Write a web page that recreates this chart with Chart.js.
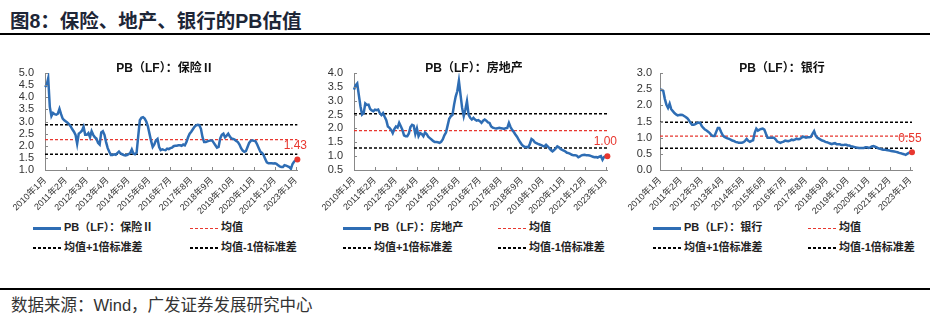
<!DOCTYPE html>
<html>
<head>
<meta charset="utf-8">
<script src="https://cdn.jsdelivr.net/npm/chart.js@4/dist/chart.umd.min.js"></script>
<style>
  body { margin: 0; width: 936px; height: 325px; background: #fff; position: relative; overflow: hidden;
         font-family: "Liberation Sans", Arial, "Noto Sans CJK SC", sans-serif; }
  #title { position: absolute; left: 10px; top: 5px; font-size: 19.5px; font-weight: bold; color: #1d2637;
           font-family: "Liberation Sans", "Noto Sans CJK SC", sans-serif; }
  .rule { position: absolute; left: 0; width: 930px; background: #000; }
  .panel { position: absolute; top: 50px; height: 170px; }
  .ptitle { position: absolute; top: 58px; font-size: 12px; font-weight: bold; color: #111; white-space: nowrap;
            transform: translateX(-50%); font-family: "Liberation Sans", "Noto Sans CJK SC", sans-serif; }
  .lg { position: absolute; font-size: 11px; font-weight: bold; color: #222; white-space: nowrap; line-height: 13px;
        font-family: "Liberation Sans", "Noto Sans CJK SC", sans-serif; }
  .lg i { display: inline-block; width: 28px; height: 2px; vertical-align: middle; margin-right: 3px; }
  .solid { background: #2e6db4; height: 3px !important; }
  .dashBlack { background: repeating-linear-gradient(to right, #000 0 3px, transparent 3px 5px); }
  .dashRed { background: repeating-linear-gradient(to right, #e8372f 0 3px, transparent 3px 5px); height: 1px !important; }
  #source { position: absolute; left: 11px; top: 292px; font-size: 16.5px; color: #333;
            font-family: "Liberation Sans", "Noto Sans CJK SC", sans-serif; }
</style>
</head>
<body>
<div id="title">图8：保险、地产、银行的PB估值</div>
<div class="rule" style="top:33px;height:2px"></div>
<div class="rule" style="top:288px;height:1.5px"></div>
<div id="source">数据来源：Wind，广发证券发展研究中心</div>

<script>
/* ================================
   Data (monthly, 2010年1月 – 2023年2月)
   ================================ */
const startYear = 2010;
const labelStep = 13;   // a label every 13 months

const insurance = [
  4.42, 4.50, 4.78, 3.60, 3.22, 3.35, 3.30, 3.28, 3.32, 3.52, 3.30, 3.12,
  3.05, 3.00, 2.95, 2.88, 2.80, 2.68, 2.58, 2.45, 2.08, 2.50, 2.55, 2.62,
  2.78, 2.45, 2.45, 2.52, 2.35, 2.60, 2.45, 2.35, 2.30, 2.12, 2.05, 2.55,
  2.60, 2.45, 2.15, 1.90, 1.75, 1.62, 1.62, 1.65, 1.63, 1.70, 1.76, 1.68,
  1.65, 1.62, 1.60, 1.62, 1.65, 1.70, 1.85, 1.68, 1.65, 1.72, 2.40, 3.05,
  3.15, 3.18, 3.12, 3.00, 2.80, 2.50, 2.20, 1.95, 2.05, 2.22, 2.28, 1.95,
  1.82, 1.85, 1.83, 1.82, 1.88, 1.86, 1.90, 1.92, 1.98, 2.00, 2.00, 2.02,
  2.02, 2.00, 2.05, 2.02, 2.15, 2.35, 2.50, 2.58, 2.68, 2.78, 2.84, 2.86,
  2.85, 2.70, 2.35, 2.15, 2.15, 2.18, 2.20, 2.22, 2.22, 2.12, 2.02, 1.92,
  1.95, 2.30, 2.45, 2.50, 2.35, 2.42, 2.50, 2.38, 2.30, 2.28, 2.25, 2.20,
  2.15, 2.05, 1.90, 1.80, 1.75, 1.78, 1.95, 2.12, 2.20, 2.22, 2.20, 2.18,
  2.05, 1.90, 1.75, 1.70, 1.62, 1.45, 1.32, 1.28, 1.28, 1.28, 1.27, 1.28,
  1.25, 1.20, 1.15, 1.12, 1.12, 1.20, 1.18, 1.15, 1.12, 1.05, 1.25, 1.35,
  1.40, 1.43
];

const realEstate = [
  3.40, 3.55, 3.62, 3.20, 2.80, 2.50, 2.55, 2.90, 2.85, 2.86, 2.70, 2.65,
  2.62, 2.68, 2.66, 2.68, 2.55, 2.48, 2.55, 2.42, 2.30, 2.07, 2.02, 1.95,
  1.83, 1.98, 2.07, 2.03, 2.20, 2.08, 1.95, 1.75, 1.72, 1.72, 1.82, 2.05,
  2.13, 2.10, 1.80, 2.00, 1.72, 1.83, 1.80, 1.72, 1.85, 1.80, 1.70, 1.65,
  1.60, 1.55, 1.51, 1.51, 1.50, 1.48, 1.52, 1.60, 1.75, 1.85, 2.10, 2.35,
  2.44, 2.48, 2.85, 3.15, 3.34, 3.72, 3.22, 2.74, 2.44, 2.68, 2.98, 2.50,
  2.38, 2.32, 2.38, 2.32, 2.28, 2.30, 2.26, 2.20, 2.28, 2.32, 2.28, 2.22,
  2.20, 2.07, 2.03, 2.01, 2.00, 2.01, 2.02, 2.01, 2.00, 1.98, 2.01, 2.02,
  2.20, 2.05, 1.95, 1.87, 1.78, 1.70, 1.60, 1.50, 1.41, 1.36, 1.33, 1.33,
  1.32, 1.45, 1.62, 1.58, 1.50, 1.47, 1.44, 1.42, 1.40, 1.37, 1.35, 1.41,
  1.35, 1.29, 1.22, 1.17, 1.22, 1.28, 1.35, 1.32, 1.26, 1.23, 1.20, 1.17,
  1.12, 1.11, 1.08, 1.05, 1.03, 1.03, 1.02, 0.96, 0.99, 1.03, 1.04, 1.05,
  1.03, 1.03, 1.02, 1.00, 0.98, 0.96, 0.97, 0.95, 0.98, 1.00, 0.87, 0.97,
  1.00, 1.00
];

const bank = [
  2.48, 2.48, 2.45, 2.20, 2.02, 1.92, 2.05, 1.88, 1.82, 1.76, 1.72, 1.69,
  1.70, 1.71, 1.70, 1.67, 1.64, 1.60, 1.54, 1.46, 1.40, 1.40, 1.42, 1.45,
  1.47, 1.46, 1.36, 1.30, 1.25, 1.22, 1.18, 1.14, 1.08, 1.05, 1.05, 1.18,
  1.30, 1.30, 1.18, 1.08, 1.03, 1.00, 0.98, 0.96, 0.94, 0.91, 0.90, 0.87,
  0.86, 0.84, 0.84, 0.84, 0.86, 0.90, 0.96, 0.90, 0.87, 0.90, 0.92, 1.15,
  1.28, 1.22, 1.25, 1.27, 1.28, 1.25, 1.12, 1.00, 1.00, 1.00, 1.00, 1.00,
  0.95, 0.88, 0.86, 0.84, 0.86, 0.88, 0.91, 0.90, 0.89, 0.91, 0.94, 0.92,
  0.94, 0.97, 0.95, 0.96, 0.99, 1.03, 1.02, 1.00, 1.01, 1.01, 1.02, 1.12,
  1.20, 1.06, 1.00, 0.97, 0.94, 0.91, 0.90, 0.87, 0.86, 0.84, 0.82, 0.80,
  0.82, 0.83, 0.80, 0.80, 0.80, 0.77, 0.77, 0.78, 0.78, 0.76, 0.76, 0.73,
  0.73, 0.71, 0.70, 0.69, 0.68, 0.68, 0.68, 0.68, 0.70, 0.70, 0.68, 0.70,
  0.73, 0.74, 0.72, 0.70, 0.67, 0.66, 0.64, 0.63, 0.63, 0.62, 0.61, 0.60,
  0.59, 0.58, 0.57, 0.56, 0.55, 0.53, 0.52, 0.50, 0.49, 0.47, 0.50, 0.53,
  0.55, 0.55
];

// [均值+1倍标准差, 均值, 均值-1倍标准差]
const insuranceBands  = [2.87, 2.25, 1.65];
const realEstateBands = [2.53, 1.92, 1.29];
const bankBands       = [1.48, 1.05, 0.67];

const seriesNames = ["PB（LF）：保险Ⅱ", "PB（LF）：房地产", "PB（LF）：银行"];
const legendNames = ["均值", "均值+1倍标准差", "均值-1倍标准差"];

const monthLabels = [];
for (let i = 0; i < insurance.length; i++) {
  monthLabels.push(`${startYear + Math.floor(i / 12)}年${(i % 12) + 1}月`);
}

/* ================================
   Panel layout
   ================================ */
const BLUE = "#2e6db4";
const RED = "#e8372f";
const Y_STEP = 0.5;

const panels = [
  { left: 0,   width: 310, yWidth: 45, yPad: 11, padRight: 5,  min: 1,   max: 5, values: insurance,  bands: insuranceBands,  name: seriesNames[0], titleX: 165, lx: 33,  lx2: 190 },
  { left: 310, width: 310, yWidth: 44, yPad: 11, padRight: 8,  min: 0.5, max: 4, values: realEstate, bands: realEstateBands, name: seriesNames[1], titleX: 474, lx: 343, lx2: 498 },
  { left: 620, width: 316, yWidth: 40, yPad: 8,  padRight: 24, min: 0,   max: 3, values: bank,       bands: bankBands,       name: seriesNames[2], titleX: 782, lx: 653, lx2: 808 }
];

// inward tick marks + last value label
const panelDecor = {
  id: "panelDecor",
  afterDraw(chart) {
    const { ctx, scales: { x, y } } = chart;
    ctx.save();
    ctx.strokeStyle = "#888";
    ctx.lineWidth = 1;
    ctx.beginPath();
    y.ticks.forEach((t, i) => {
      const py = Math.round(y.getPixelForTick(i)) + 0.5;
      ctx.moveTo(x.left, py);
      ctx.lineTo(x.left + 3, py);
    });
    x.ticks.forEach((t, i) => {
      if (i % labelStep !== 0) return;
      const px = Math.round(x.getPixelForTick(i)) + 0.5;
      ctx.moveTo(px, y.bottom);
      ctx.lineTo(px, y.bottom - 3);
    });
    ctx.stroke();

    const meta = chart.getDatasetMeta(0);
    const last = meta.data[meta.data.length - 1];
    const vals = chart.data.datasets[0].data;
    ctx.fillStyle = RED;
    ctx.font = '12px "Liberation Sans", Arial, sans-serif';
    ctx.textAlign = "center";
    ctx.textBaseline = "middle";
    ctx.fillText(vals[vals.length - 1].toFixed(2), last.x - 2, last.y - 14);
    ctx.restore();
  }
};

Chart.defaults.font.family = '"Liberation Sans", Arial, "Noto Sans CJK SC", sans-serif';

function flatLine(v, n) {
  return new Array(n).fill(v);
}

function makeLegend(p) {
  const html = [
    `<div class="lg" style="left:${p.lx}px;top:221px"><i class="solid"></i>${p.name}</div>`,
    `<div class="lg" style="left:${p.lx2}px;top:221px"><i class="dashRed"></i>${legendNames[0]}</div>`,
    `<div class="lg" style="left:${p.lx}px;top:241px"><i class="dashBlack"></i>${legendNames[1]}</div>`,
    `<div class="lg" style="left:${p.lx2}px;top:241px"><i class="dashBlack"></i>${legendNames[2]}</div>`
  ];
  document.body.insertAdjacentHTML("beforeend", html.join(""));
}

panels.forEach(p => {
  const wrap = document.createElement("div");
  wrap.className = "panel";
  wrap.style.left = p.left + "px";
  wrap.style.width = p.width + "px";
  const canvas = document.createElement("canvas");
  wrap.appendChild(canvas);
  document.body.appendChild(wrap);

  document.body.insertAdjacentHTML("beforeend",
    `<div class="ptitle" style="left:${p.titleX}px">${p.name}</div>`);
  makeLegend(p);

  const n = p.values.length;
  new Chart(canvas, {
    type: "line",
    data: {
      labels: monthLabels,
      datasets: [
        { data: p.values, borderColor: BLUE, borderWidth: 2.5, tension: 0,
          pointRadius: ctx => ctx.dataIndex === n - 1 ? 3 : 0,
          pointBackgroundColor: RED, pointBorderColor: RED, pointBorderWidth: 0 },
        { data: flatLine(p.bands[1], n), borderColor: RED, borderWidth: 1.2, borderDash: [3, 2], pointRadius: 0 },
        { data: flatLine(p.bands[0], n), borderColor: "#000", borderWidth: 1.5, borderDash: [3, 2], pointRadius: 0 },
        { data: flatLine(p.bands[2], n), borderColor: "#000", borderWidth: 1.5, borderDash: [3, 2], pointRadius: 0 }
      ]
    },
    options: {
      responsive: true,
      maintainAspectRatio: false,
      animation: false,
      layout: { padding: { top: 23, right: p.padRight, left: 0, bottom: 0 } },
      plugins: { legend: { display: false }, tooltip: { enabled: false } },
      scales: {
        x: {
          type: "category",
          grid: { display: false, drawTicks: false, tickLength: 0 },
          border: { display: true, color: "#888", width: 1 },
          ticks: {
            autoSkip: false, minRotation: 45, maxRotation: 45, padding: 5,
            color: "#333", font: { size: 9 },
            callback: (v, i) => (i % labelStep === 0 ? monthLabels[i] : "")
          },
          afterFit: s => { s.height = 50; }
        },
        y: {
          min: p.min, max: p.max,
          grid: { display: false, drawTicks: false, tickLength: 0 },
          border: { display: true, color: "#888", width: 1 },
          ticks: { stepSize: Y_STEP, autoSkip: false, padding: p.yPad, color: "#333",
                   font: { size: 11 },
                   callback: v => v.toFixed(1) },
          afterFit: s => { s.width = p.yWidth; }
        }
      }
    },
    plugins: [panelDecor]
  });
});
</script>
</body>
</html>
